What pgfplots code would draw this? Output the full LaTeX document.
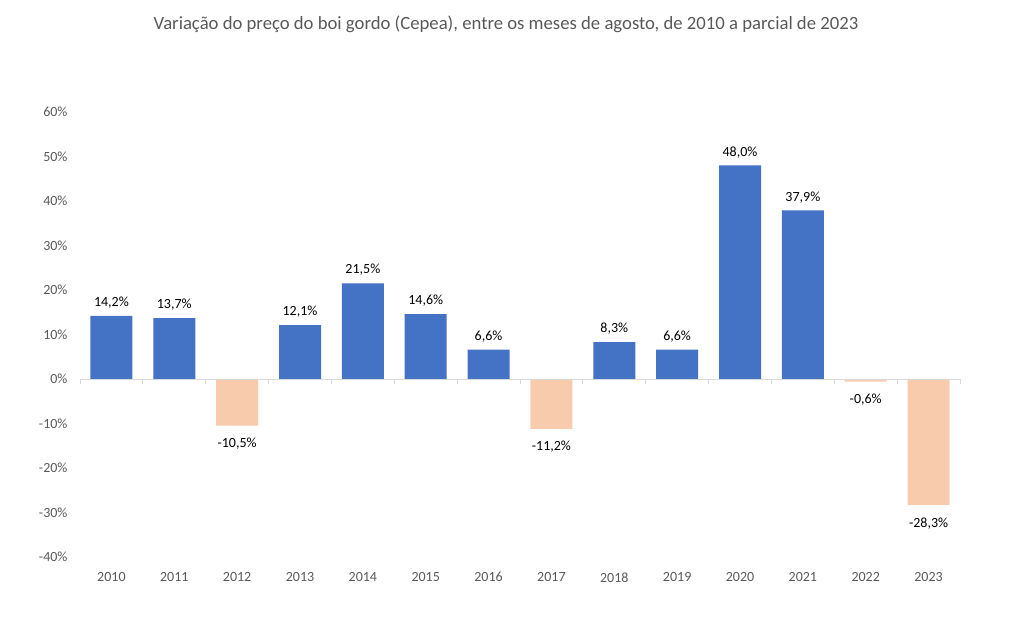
\documentclass[border=0pt]{standalone}
\usepackage{pgfplots}
\pgfplotsset{compat=1.18}
\usepackage{pgfplotstable}
\usepackage{fontspec}
\setmainfont{Carlito}
\definecolor{barblue}{HTML}{4472C4}
\definecolor{barpeach}{HTML}{F8CBAD}
\definecolor{txtgray}{HTML}{595959}
\definecolor{axgray}{HTML}{D9D9D9}
\pgfplotstableread{
x y
0 14.2
1 13.7
3 12.1
4 21.5
5 14.6
6 6.6
8 8.3
9 6.6
10 48.0
11 37.9
}\pos
\pgfplotstableread{
x y
2 -10.5
7 -11.2
12 -0.6
13 -28.3
}\neg
\begin{document}
\begin{tikzpicture}
\path[use as bounding box] (0,0) rectangle (1012pt,631pt);
\node[text=txtgray,font=\fontsize{18.7}{22}\selectfont] at (506pt,607pt) {Variação do preço do boi gordo (Cepea), entre os meses de agosto, de 2010 a parcial de 2023};
\begin{axis}[
  at={(80pt,74pt)}, anchor=south west,
  scale only axis, width=880pt, height=445pt,
  xmin=-0.5, xmax=13.5, ymin=-40, ymax=60,
  ytick={-40,-30,...,60},
  xtick={0,...,13},
  xticklabels={2010,2011,2012,2013,2014,2015,2016,2017,2018,2019,2020,2021,2022,2023},
  axis line style={draw=none},
  major tick length=0pt,
  /pgf/number format/assume math mode=true,
  yticklabel={\pgfmathprintnumber{\tick}\%},
  ticklabel style={font=\fontsize{14}{16}\selectfont, text=txtgray},
  yticklabel style={xshift=-9pt},
  xticklabel style={yshift=-12pt},
  ybar, bar width=42pt, bar shift=0pt,
  clip=false,
  nodes near coords={\pgfmathprintnumber[fixed,fixed zerofill,precision=1,use comma,assume math mode=true]{\pgfplotspointmeta}\%},
  every node near coord/.append style={font=\fontsize{14}{16}\selectfont, text=black},
]
\addplot[fill=barblue, draw=none, nodes near coords style={anchor=south, yshift=4pt}] table[x=x,y=y] {\pos};
\addplot[fill=barpeach, draw=none, nodes near coords style={anchor=north, yshift=-9pt}] table[x=x,y=y] {\neg};
\draw[axgray, line width=0.8pt] (axis cs:-0.5,0) -- (axis cs:13.5,0);
\pgfplotsinvokeforeach{-0.5,0.5,...,13.5}{
  \draw[axgray, line width=0.8pt] (axis cs:#1,0) -- (axis cs:#1,-1.12);
}
\end{axis}
\end{tikzpicture}
\end{document}
